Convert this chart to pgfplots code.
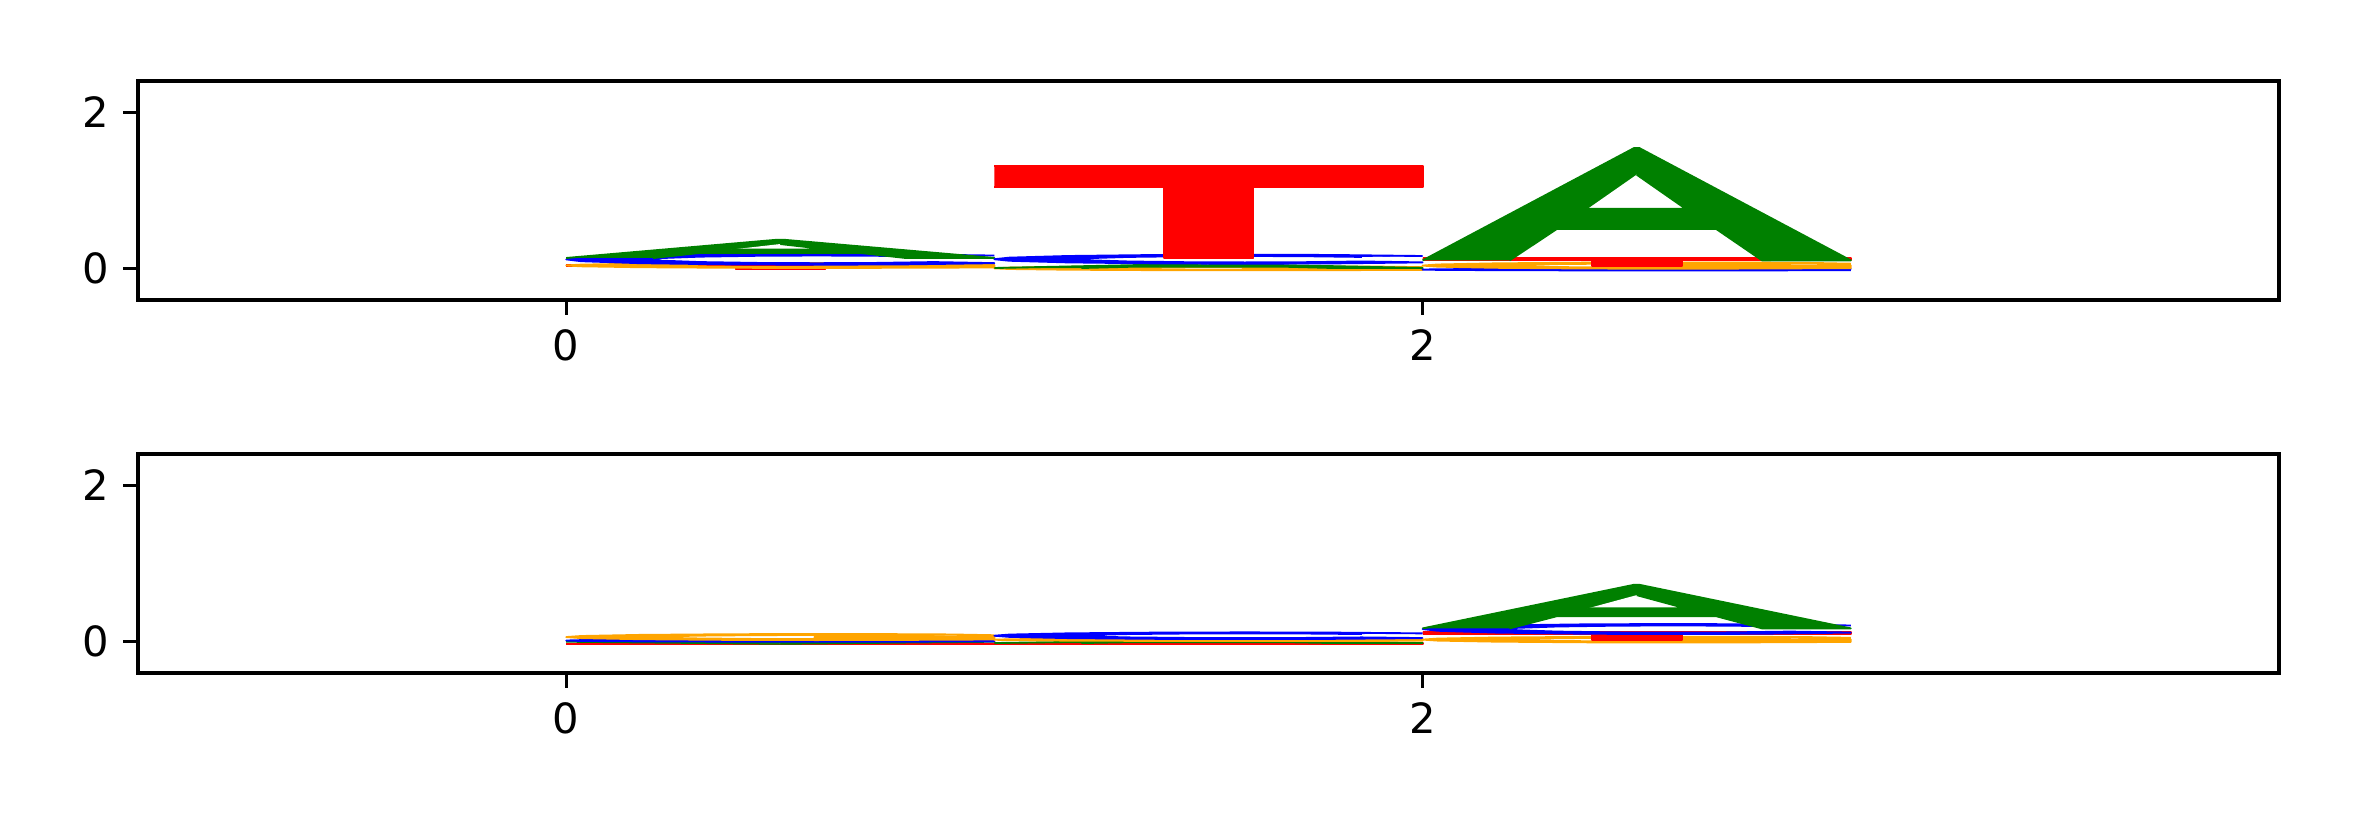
\documentclass[border=0pt]{standalone}
\usepackage{fontspec}
\setmainfont{DejaVu Sans}
\usepackage{pgfplots}
\usepackage{pgfplotstable}
\pgfplotsset{compat=1.18}
\definecolor{lgreen}{RGB}{0,128,0}
\definecolor{lorange}{RGB}{255,165,0}
\definecolor{lred}{RGB}{255,0,0}
\definecolor{lblue}{RGB}{0,0,255}
% glyph outlines in a unit box
\pgfplotstableread{
x y
0 0
0.494 1
0.506 1
1 0
0.793 0
0.686 0.279
0.313 0.279
0.203 0
}\Ashape
\pgfplotstableread{
x y
0.5 0.763
0.614 0.46
0.386 0.46
}\Ahole
\pgfplotstableread{
x y
0 1
1 1
1 0.765
0.605 0.765
0.605 0
0.396 0
0.396 0.765
0 0.765
}\Tshape
\pgfplotstableread{
x y
1.0 0.854
0.786 0.970
0.585 1
0.385 0.970
0.171 0.854
0.035 0.671
0 0.5
0.035 0.329
0.171 0.146
0.385 0.030
0.585 0
0.786 0.030
1.0 0.146
0.858 0.245
0.718 0.162
0.585 0.14
0.453 0.162
0.313 0.245
0.222 0.377
0.199 0.5
0.222 0.623
0.313 0.755
0.453 0.838
0.585 0.86
0.718 0.838
0.858 0.755
}\Cshape
\pgfplotstableread{
x y
1.0 0.80
0.9 0.93
0.75 0.985
0.585 1
0.385 0.970
0.171 0.854
0.035 0.671
0 0.5
0.035 0.329
0.171 0.146
0.385 0.030
0.585 0
0.786 0.030
1.0 0.10
1.0 0.54
0.58 0.54
0.58 0.40
0.83 0.40
0.83 0.22
0.718 0.17
0.585 0.155
0.453 0.175
0.313 0.26
0.222 0.38
0.199 0.5
0.222 0.62
0.313 0.74
0.453 0.825
0.585 0.845
0.72 0.83
0.86 0.75
}\Gshape
% #1 shape, #2 fill, #3 outline, #4 left x, #5 y of glyph base, #6 y of glyph top (swap for flipped)
\newcommand{\glyph}[6]{\addplot[fill=#2, draw=#3, line width=0.45bp, line join=round, forget plot] table[x expr={#4+\thisrow{x}}, y expr={(#5)+((#6)-(#5))*\thisrow{y}}] {#1};}
\newcommand{\LA}[3]{\glyph{\Ashape}{lgreen}{lgreen}{#1}{#2}{#3}\glyph{\Ahole}{white}{lgreen}{#1}{#2}{#3}}
\newcommand{\LC}[3]{\glyph{\Cshape}{lblue}{lblue}{#1}{#2}{#3}}
\newcommand{\LG}[3]{\glyph{\Gshape}{lorange}{lorange}{#1}{#2}{#3}}
\newcommand{\LT}[3]{\glyph{\Tshape}{lred}{lred}{#1}{#2}{#3}}
\pgfplotsset{
  logoaxis/.style={
    scale only axis, width=513.84bp, height=52.56bp, anchor=south west,
    xmin=-1, xmax=4, ymin=-0.4, ymax=2.4,
    xtick={0,2}, ytick={0,2},
    tick pos=left, tick align=outside, major tick length=3.5bp,
    tick style={line width=0.8bp, black},
    axis line style={line width=0.8bp},
    /pgf/number format/assume math mode=true,
    tick label style={font=\fontsize{10bp}{12bp}\selectfont},
    clip=true,
  }
}
\begin{document}
\begin{tikzpicture}
\useasboundingbox (0,0) rectangle (566.88bp,198.24bp);
\begin{axis}[logoaxis, at={(33.12bp,126.24bp)}]
% position 0
\LT{0}{-0.01}{0.05}
\LG{0}{0.01}{0.073}
\LC{0}{0.051}{0.188}
\LA{0}{0.137}{0.371}
% position 1
\LG{1}{-0.02}{0.03}
\LA{1}{0.009}{0.064}
\LC{1}{0.064}{0.179}
\LT{1}{0.137}{1.317}
% position 2
\LC{2}{0}{-0.022}
\LG{2}{0}{0.08}
\LT{2}{0.038}{0.137}
\LA{2}{0.106}{1.543}
\end{axis}
\begin{axis}[logoaxis, at={(33.12bp,36.72bp)}]
% position 0
\LT{0}{-0.021}{-0.034}
\LA{0}{0}{-0.026}
\LC{0}{0}{0.03}
\LG{0}{0.021}{0.098}
% position 1
\LT{1}{-0.004}{-0.026}
\LA{1}{-0.017}{0.022}
\LG{1}{0.009}{0.042}
\LC{1}{0.034}{0.119}
% position 2
\LG{2}{-0.01}{0.064}
\LT{2}{0.021}{0.128}
\LC{2}{0.098}{0.226}
\LA{2}{0.17}{0.728}
\end{axis}
\end{tikzpicture}
\end{document}
